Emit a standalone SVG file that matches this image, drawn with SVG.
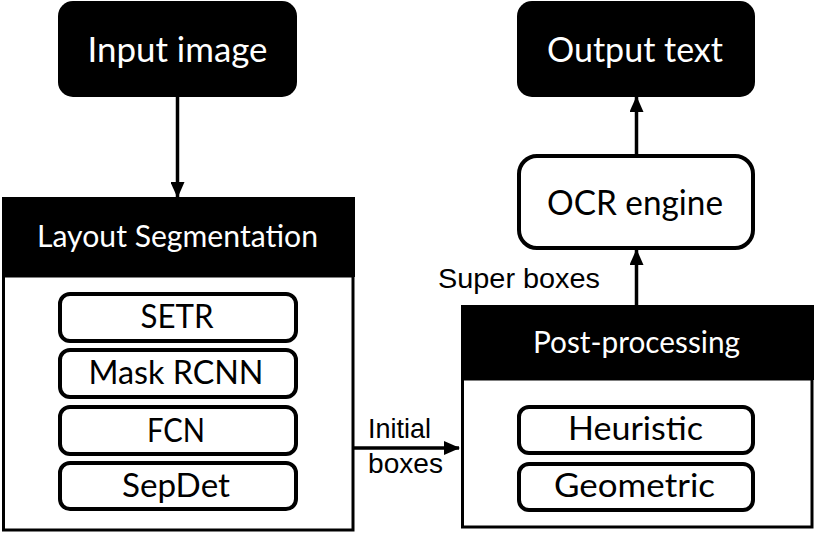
<svg xmlns="http://www.w3.org/2000/svg" width="816" height="533" viewBox="0 0 816 533">
<defs>
<style>
.blk{fill:#000}
.wbox{fill:#fff;stroke:#000;stroke-width:3}
.inner{fill:#fff;stroke:#000;stroke-width:4}
.tw{fill:#fff;font-family:Lato,"Open Sans","Noto Sans",sans-serif;text-anchor:middle}
.tb{fill:#000;font-family:Lato,"Open Sans","Noto Sans",sans-serif;text-anchor:middle}
.lbl{fill:#000;font-family:"Liberation Sans",Arial,sans-serif;font-size:27.5px}
.conn{stroke:#000;stroke-width:3.5;fill:none;marker-end:url(#arr)}
</style>
<marker id="arr" markerUnits="userSpaceOnUse" markerWidth="16" markerHeight="14" refX="15" refY="7" orient="auto">
<path d="M0,0 L16,7 L0,14 Z" fill="#000"/>
</marker>
</defs>

<g id="input-image">
<rect class="blk" x="58" y="1" width="239" height="96" rx="15"/>
<text class="tw" x="177.5" y="62" font-size="34" textLength="180" lengthAdjust="spacingAndGlyphs">Input image</text>
</g>

<g id="output-text">
<rect class="blk" x="517" y="1" width="238" height="96" rx="15"/>
<text class="tw" x="635" y="62" font-size="34" textLength="176" lengthAdjust="spacingAndGlyphs">Output text</text>
</g>

<g id="layout-segmentation">
<rect class="wbox" x="3.5" y="276" width="349.5" height="254"/>
<rect class="blk" x="2" y="197" width="353" height="80"/>
<text class="tw" x="177.5" y="247" font-size="30" textLength="281" lengthAdjust="spacingAndGlyphs">Layout Segmentation</text>
</g>

<g id="setr">
<rect class="inner" x="60" y="294" width="236" height="47" rx="10"/>
<text class="tb" x="177" y="328" font-size="32" textLength="73" lengthAdjust="spacingAndGlyphs">SETR</text>
</g>
<g id="mask-rcnn">
<rect class="inner" x="60" y="350" width="236" height="47" rx="10"/>
<text class="tb" x="176" y="384" font-size="32" textLength="175" lengthAdjust="spacingAndGlyphs">Mask RCNN</text>
</g>
<g id="fcn">
<rect class="inner" x="60" y="407" width="236" height="47" rx="10"/>
<text class="tb" x="176" y="442" font-size="32" textLength="58" lengthAdjust="spacingAndGlyphs">FCN</text>
</g>
<g id="sepdet">
<rect class="inner" x="60" y="463" width="236" height="46" rx="10"/>
<text class="tb" x="176" y="497" font-size="32" textLength="108" lengthAdjust="spacingAndGlyphs">SepDet</text>
</g>

<g id="ocr-engine">
<rect class="inner" x="519" y="156" width="234" height="92" rx="18"/>
<text class="tb" x="635" y="215" font-size="34" textLength="176" lengthAdjust="spacingAndGlyphs">OCR engine</text>
</g>

<g id="post-processing">
<rect class="wbox" x="462.5" y="379" width="349.5" height="148"/>
<rect class="blk" x="461" y="305" width="353" height="75"/>
<text class="tw" x="636.5" y="353" font-size="30" textLength="207" lengthAdjust="spacingAndGlyphs">Post-processing</text>
</g>

<g id="heuristic">
<rect class="inner" x="519" y="407" width="234" height="46" rx="10"/>
<text class="tb" x="635.5" y="440" font-size="32" textLength="135" lengthAdjust="spacingAndGlyphs">Heuristic</text>
</g>
<g id="geometric">
<rect class="inner" x="519" y="464" width="234" height="46" rx="10"/>
<text class="tb" x="634.5" y="497" font-size="32" textLength="161" lengthAdjust="spacingAndGlyphs">Geometric</text>
</g>

<g id="connectors">
<line class="conn" x1="177.5" y1="97" x2="177.5" y2="197"/>
<line class="conn" x1="636.5" y1="154" x2="636.5" y2="97"/>
<line class="conn" x1="636.5" y1="305" x2="636.5" y2="250"/>
<line class="conn" x1="354" y1="448" x2="459" y2="448"/>
<text class="lbl" x="438" y="288" textLength="162" lengthAdjust="spacingAndGlyphs">Super boxes</text>
<text class="lbl" x="368" y="438" textLength="63" lengthAdjust="spacingAndGlyphs">Initial</text>
<text class="lbl" x="368" y="473" textLength="75" lengthAdjust="spacingAndGlyphs">boxes</text>
</g>
</svg>
